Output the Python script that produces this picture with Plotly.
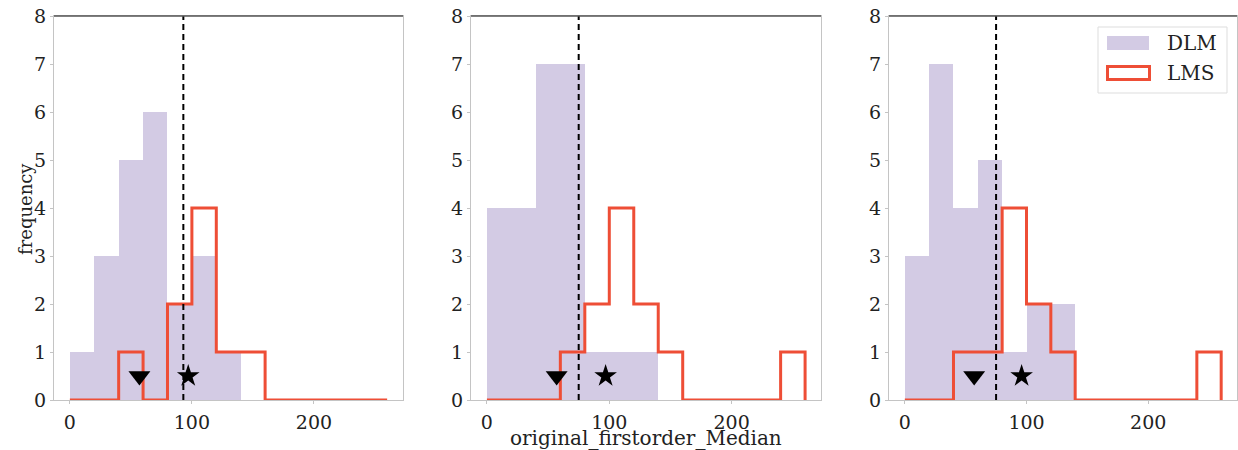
import plotly.graph_objects as go

# ---- data ----
bin_edges = [0, 20, 40, 60, 80, 100, 120, 140, 160, 180, 200, 220, 240, 260]
dlm_counts_1 = [1, 3, 5, 6, 2, 3, 1, 0, 0, 0, 0, 0, 0]
lms_counts_1 = [0, 0, 1, 0, 2, 4, 1, 1, 0, 0, 0, 0, 0]
dlm_counts_2 = [4, 4, 7, 7, 1, 1, 1, 0, 0, 0, 0, 0, 0]
lms_counts_2 = [0, 0, 0, 1, 2, 4, 2, 1, 0, 0, 0, 0, 1]
dlm_counts_3 = [3, 7, 4, 5, 1, 2, 2, 0, 0, 0, 0, 0, 0]
lms_counts_3 = [0, 0, 1, 1, 4, 2, 1, 0, 0, 0, 0, 0, 1]
threshold = [93, 75, 75]
triangle_x = [57, 57, 57]
star_x = [97, 97, 96]
marker_y = 0.5
x_ticks = [0, 100, 200]
y_ticks = [0, 1, 2, 3, 4, 5, 6, 7, 8]
x_title = "original_firstorder_Median"
y_title = "frequency"
series_names = ["DLM", "LMS"]

DLM_COLOR = "#d3cbe4"
LMS_COLOR = "#ee4e36"
FONT = "DejaVu Serif"
TXT = "#222222"

W, H = 1238, 450
ML, MR, MT, MB = 54, 1, 16, 50
PW, PH = W - ML - MR, H - MT - MB


def px_x(p):
    return (p - ML) / PW


def px_y(p):
    return (H - MB - p) / PH


x_domains = [(px_x(54), px_x(403)), (px_x(471), px_x(821)), (px_x(889), px_x(1237))]

fig = go.Figure()
panels = [(dlm_counts_1, lms_counts_1), (dlm_counts_2, lms_counts_2), (dlm_counts_3, lms_counts_3)]

centers = [(bin_edges[i] + bin_edges[i + 1]) / 2 for i in range(len(bin_edges) - 1)]
widths = [bin_edges[i + 1] - bin_edges[i] for i in range(len(bin_edges) - 1)]

for i, (dlm, lms) in enumerate(panels):
    xa = "x" if i == 0 else f"x{i+1}"
    ya = "y" if i == 0 else f"y{i+1}"
    fig.add_trace(go.Bar(x=centers, y=dlm, width=widths, marker=dict(color=DLM_COLOR, line=dict(width=0)),
                         name=series_names[0], showlegend=False, xaxis=xa, yaxis=ya, hoverinfo="skip"))
    step_x = [bin_edges[0]] + list(bin_edges)
    step_y = [0] + list(lms) + [0]
    fig.add_trace(go.Scatter(x=step_x, y=step_y, mode="lines", name=series_names[1],
                             line=dict(color=LMS_COLOR, width=3, shape="hv"),
                             showlegend=False, xaxis=xa, yaxis=ya, hoverinfo="skip"))
    fig.add_trace(go.Scatter(x=[threshold[i], threshold[i]], y=[0, 8], mode="lines",
                             line=dict(color="black", width=2, dash="6px,4px"),
                             showlegend=False, xaxis=xa, yaxis=ya, hoverinfo="skip"))
    fig.add_trace(go.Scatter(x=[triangle_x[i]], y=[marker_y], mode="markers",
                             marker=dict(symbol="triangle-down", size=19, color="black"),
                             showlegend=False, xaxis=xa, yaxis=ya, hoverinfo="skip"))
    fig.add_trace(go.Scatter(x=[star_x[i]], y=[marker_y], mode="markers",
                             marker=dict(symbol="star", size=17, color="black"),
                             showlegend=False, xaxis=xa, yaxis=ya, hoverinfo="skip"))

    axis_common = dict(showgrid=False, zeroline=False, showline=True, linecolor="#c4c4c4", linewidth=1.3,
                       mirror=True, ticks="outside", ticklen=3, tickcolor="#c4c4c4", automargin=False,
                       tickfont=dict(family=FONT, size=19, color=TXT))
    xkey = "xaxis" if i == 0 else f"xaxis{i+1}"
    ykey = "yaxis" if i == 0 else f"yaxis{i+1}"
    fig.update_layout(**{
        xkey: dict(axis_common, domain=x_domains[i], range=[-13, 273], tickvals=x_ticks, anchor=ya,
                   ticklabelstandoff=2),
        ykey: dict(axis_common, domain=[0, 1], range=[0, 8], tickvals=y_ticks, anchor=xa),
    })
    # darker top spine
    fig.add_shape(type="line", xref=f"{xa} domain", yref=f"{ya} domain", x0=0, x1=1, y0=1, y1=1,
                  line=dict(color="#555555", width=1.5), layer="above")

# axis titles
fig.add_annotation(x=px_x(646), y=px_y(437.5), xref="paper", yref="paper", text=x_title, showarrow=False,
                   font=dict(family=FONT, size=20, color=TXT), xanchor="center", yanchor="middle")
fig.add_annotation(x=px_x(25), y=px_y(209), xref="paper", yref="paper", text=y_title, showarrow=False,
                   textangle=-90, font=dict(family=FONT, size=18, color=TXT), xanchor="center", yanchor="middle")

# legend (drawn in panel 3)
fig.add_shape(type="rect", xref="paper", yref="paper", x0=px_x(1098), x1=px_x(1227), y0=px_y(93), y1=px_y(27),
              line=dict(color="#dddddd", width=1), fillcolor="white", layer="above")
fig.add_shape(type="rect", xref="paper", yref="paper", x0=px_x(1107), x1=px_x(1149), y0=px_y(50), y1=px_y(36),
              line=dict(width=0), fillcolor=DLM_COLOR, layer="above")
fig.add_shape(type="rect", xref="paper", yref="paper", x0=px_x(1107.5), x1=px_x(1149.5), y0=px_y(79.5), y1=px_y(66.5),
              line=dict(color=LMS_COLOR, width=3), fillcolor="white", layer="above")
for name, yc in zip(series_names, [43, 73]):
    fig.add_annotation(x=px_x(1165), y=px_y(yc), xref="paper", yref="paper", text=name, showarrow=False,
                       font=dict(family=FONT, size=20, color=TXT), xanchor="left", yanchor="middle")

fig.update_layout(
    width=W, height=H, margin=dict(l=ML, r=MR, t=MT, b=MB, autoexpand=False),
    paper_bgcolor="white", plot_bgcolor="white",
    bargap=0, barmode="overlay", showlegend=False,
    font=dict(family=FONT, size=19, color=TXT),
)

fig.write_html("out.html", config={"displayModeBar": False},
               post_script="document.body.style.margin='0';document.body.style.overflow='hidden';")
